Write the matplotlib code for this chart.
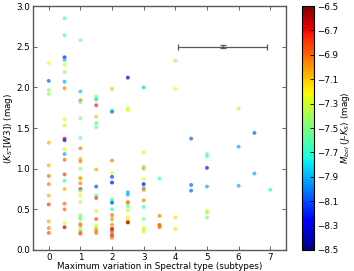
import numpy as np
import matplotlib
matplotlib.use("Agg")
import matplotlib.pyplot as plt

# spectral type variation (subtypes), (Ks-[W3]) colour, Mbol
sp_var = np.array(
    [0] * 13
    + [0.5] * 22
    + [1] * 26
    + [1.5] * 18
    + [2] * 21
    + [2.5] * 13
    + [3] * 14
    + [3.5] * 5
    + [4] * 4
    + [4.5] * 3
    + [5] * 7
    + [6] * 3
    + [6.5] * 2
    + [7] * 1
)

kw3 = np.array([
    # 0
    2.30, 2.08, 1.97, 1.92, 1.32, 1.04, 0.91, 0.81, 0.67, 0.56, 0.35, 0.27, 0.21,
    # 0.5
    2.85, 2.64, 2.37, 2.34, 2.28, 2.19, 2.07, 1.99, 1.61, 1.53, 1.37, 1.35,
    1.24, 1.18, 1.11, 0.93, 0.85, 0.75, 0.57, 0.50, 0.33, 0.28,
    # 1
    2.58, 1.95, 1.84, 1.82, 1.62, 1.38, 1.25, 1.12, 1.09, 1.00, 0.89, 0.88,
    0.82, 0.75, 0.73, 0.67, 0.59, 0.43, 0.40, 0.38, 0.32, 0.30, 0.25, 0.23,
    0.21, 0.20,
    # 1.5
    1.89, 1.87, 1.85, 1.78, 1.64, 1.56, 1.51, 0.99, 0.78, 0.67, 0.64, 0.48,
    0.38, 0.30, 0.27, 0.26, 0.24, 0.21,
    # 2
    1.98, 1.72, 1.70, 1.10, 0.95, 0.90, 0.83, 0.62, 0.60, 0.58, 0.50, 0.43,
    0.38, 0.37, 0.31, 0.26, 0.24, 0.22, 0.18, 0.17, 0.15,
    # 2.5
    2.12, 1.74, 1.72, 0.71, 0.68, 0.59, 0.58, 0.54, 0.49, 0.40, 0.36, 0.34,
    0.34,
    # 3
    2.00, 1.20, 1.02, 1.00, 0.87, 0.81, 0.76, 0.74, 0.61, 0.53, 0.38, 0.27,
    0.25, 0.23,
    # 3.5
    0.88, 0.42, 0.31, 0.30, 0.28,
    # 4
    2.33, 1.98, 0.40, 0.26,
    # 4.5
    1.37, 0.80, 0.73,
    # 5
    1.18, 1.15, 1.01, 0.78, 0.48, 0.46, 0.40,
    # 6
    1.74, 1.27, 0.79,
    # 6.5
    1.44, 0.94,
    # 7
    0.74,
])

mbol = np.array([
    # 0
    -7.22, -8.05, -7.45, -7.45, -7.05, -7.05, -6.9, -6.95, -7.05, -6.8, -7.05, -6.95, -6.85,
    # 0.5
    -7.65, -7.65, -8.2, -7.9, -7.3, -7.45, -7.9, -6.95, -7.2, -7.3, -6.7, -8.2,
    -7.2, -7.9, -6.9, -6.8, -7.7, -7.05, -6.9, -6.9, -7.25, -6.6,
    # 1
    -7.5, -7.85, -6.9, -7.55, -7.5, -7.5, -6.95, -7.05, -6.95, -7.45, -7.15, -7.0,
    -6.95, -6.7, -7.6, -7.2, -7.4, -7.45, -7.55, -7.5, -6.95, -6.95, -7.4, -7.55,
    -6.9, -6.9,
    # 1.5
    -7.45, -7.45, -7.8, -6.75, -7.1, -7.65, -7.55, -7.05, -8.1, -7.65, -6.8, -7.3,
    -6.85, -7.35, -7.2, -7.45, -6.95, -6.9,
    # 2
    -7.1, -7.6, -8.05, -6.95, -7.25, -8.15, -8.25, -7.6, -7.65, -8.1, -7.75, -6.9,
    -6.9, -7.4, -6.95, -6.55, -6.75, -6.95, -8.3, -6.95, -6.95,
    # 2.5
    -8.4, -7.3, -7.2, -7.9, -7.9, -6.95, -6.95, -7.6, -7.35, -7.2, -7.25, -6.95,
    -6.6,
    # 3
    -7.85, -7.2, -7.65, -7.05, -7.25, -8.25, -7.85, -6.95, -6.95, -7.65, -7.5, -7.3,
    -7.2, -7.35,
    # 3.5
    -7.65, -6.95, -6.9, -6.9, -6.9,
    # 4
    -7.45, -7.2, -7.15, -7.15,
    # 4.5
    -8.05, -8.05, -8.05,
    # 5
    -7.6, -7.6, -8.2, -7.9, -7.2, -7.45, -7.5,
    # 6
    -7.35, -7.9, -7.9,
    # 6.5
    -8.05, -7.9,
    # 7
    -7.7,
])

xticks = np.arange(0, 8, 1)
yticks = np.arange(0, 3.01, 0.5)
cticks = np.arange(-6.5, -8.51, -0.2)

plt.rcParams["font.size"] = 6.3
plt.rcParams["xtick.direction"] = "in"
plt.rcParams["ytick.direction"] = "in"

fig = plt.figure(figsize=(3.54, 2.71), dpi=100)
ax = fig.add_axes([0.093, 0.0775, 0.715, 0.9])
cax = fig.add_axes([0.853, 0.0775, 0.034, 0.9])

sc = ax.scatter(sp_var, kw3, c=mbol, cmap="jet", vmin=-8.5, vmax=-6.5,
                s=8, alpha=0.7, edgecolors="none")

# typical uncertainty
ax.errorbar(5.5, 2.5, xerr=1.4, yerr=0.02, fmt="none", ecolor="0.35",
            elinewidth=0.9, capsize=2.5, capthick=0.9)

ax.set_xlim(-0.5, 7.5)
ax.set_ylim(0, 3.0)
ax.set_xticks(xticks)
ax.set_yticks(yticks)
ax.tick_params(top=True, right=True, length=3, width=0.6, pad=2, color="0.3")
for sp in ax.spines.values():
    sp.set_color("0.35")
    sp.set_linewidth(1.0)
ax.set_xlabel("Maximum variation in Spectral type (subtypes)", labelpad=0)
ax.set_ylabel("$(K_S$-$[W3])$ (mag)", labelpad=1)

cb = fig.colorbar(sc, cax=cax, ticks=cticks)
cb.solids.set_alpha(1)
cb.ax.tick_params(direction="in", length=3, width=0.6, pad=2)
cb.ax.set_yticklabels([f"{t:.1f}".replace("-", "\u2212") for t in cticks])
cb.set_label("$M_{bol}$ ($J$-$K_S$) (mag)", labelpad=1)
cb.outline.set_linewidth(0.8)

fig.savefig("out.png", dpi=100)
